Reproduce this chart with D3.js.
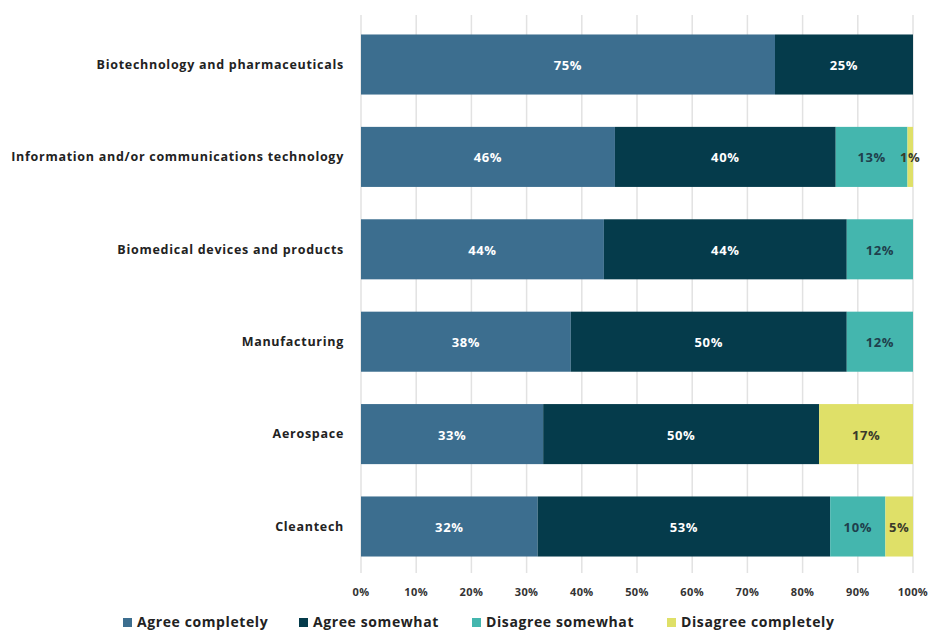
<!DOCTYPE html>
<html>
<head>
<meta charset="utf-8">
<script src="https://cdn.jsdelivr.net/npm/d3@7"></script>
<style>
  body { margin: 0; background: #fff; font-family: "Open Sans", sans-serif; }
</style>
</head>
<body>
<div id="chart-area"></div>
<script>
// Datos del gráfico
var categories = ["Biotechnology and pharmaceuticals", "Information and/or communications technology",
    "Biomedical devices and products", "Manufacturing", "Aerospace", "Cleantech"];
var seriesNames = ["Agree completely", "Agree somewhat", "Disagree somewhat", "Disagree completely"];
var agreeCompletely = [75, 46, 44, 38, 33, 32];
var agreeSomewhat = [25, 40, 44, 50, 50, 53];
var disagreeSomewhat = [0, 13, 12, 12, 0, 10];
var disagreeCompletely = [0, 1, 0, 0, 17, 5];
var tickValues = [0, 10, 20, 30, 40, 50, 60, 70, 80, 90, 100];

var colors = ["#3c6e8f", "#053b4b", "#44b6ae", "#dfe068"];
var labelColors = ["#ffffff", "#ffffff", "#1f3f4c", "#3a3a2a"];

// Construir la tabla para d3.stack
var data = categories.map(function(c, i) {
    return {
        category: c,
        "Agree completely": agreeCompletely[i],
        "Agree somewhat": agreeSomewhat[i],
        "Disagree somewhat": disagreeSomewhat[i],
        "Disagree completely": disagreeCompletely[i]
    };
});

var width = 931, height = 632;
var margin = { top: 16, left: 361, right: 18 };
var plotBottom = 575;

var svg = d3.select("#chart-area").append("svg")
    .attr("width", width)
    .attr("height", height);

var x = d3.scaleLinear().domain([0, 100]).range([margin.left, width - margin.right]);
var y = d3.scaleBand().domain(categories).range([margin.top, plotBottom])
    .paddingInner(0.35).paddingOuter(0.2);

// Líneas de cuadrícula
svg.append("g").selectAll("line")
    .data(tickValues)
    .enter().append("line")
    .attr("x1", function(d) { return x(d); })
    .attr("x2", function(d) { return x(d); })
    .attr("y1", margin.top - 1)
    .attr("y2", plotBottom - 2)
    .attr("stroke", "#e2e2e2")
    .attr("stroke-width", 1.5);

// Etiquetas del eje X
svg.append("g").selectAll("text")
    .data(tickValues)
    .enter().append("text")
    .attr("x", function(d) { return x(d); })
    .attr("y", 596)
    .attr("text-anchor", "middle")
    .style("font-size", "11px")
    .style("font-weight", "700")
    .style("letter-spacing", "0.4px")
    .attr("fill", "#333")
    .text(function(d) { return d + "%"; });

// Etiquetas de categorías
svg.append("g").selectAll("text")
    .data(categories)
    .enter().append("text")
    .attr("x", 344)
    .attr("y", function(d) { return y(d) + y.bandwidth() / 2; })
    .attr("dy", "0.35em")
    .attr("text-anchor", "end")
    .style("font-size", "12.5px")
    .style("font-weight", "700")
    .style("letter-spacing", "0.72px")
    .attr("fill", "#222")
    .text(function(d) { return d; });

var stacked = d3.stack().keys(seriesNames)(data);

var layers = svg.selectAll(".layer")
    .data(stacked)
    .enter().append("g")
    .attr("class", "layer")
    .attr("fill", function(d, i) { return colors[i]; });

layers.selectAll("rect")
    .data(function(d) { return d.filter(function(s) { return s[1] - s[0] > 0; }); })
    .enter().append("rect")
    .attr("x", function(d) { return x(d[0]); })
    .attr("y", function(d) { return y(d.data.category); })
    .attr("width", function(d) { return x(d[1]) - x(d[0]); })
    .attr("height", y.bandwidth());

// Etiquetas de valores
layers.each(function(layer, i) {
    d3.select(this).selectAll("text")
        .data(layer.filter(function(s) { return s[1] - s[0] > 0; }))
        .enter().append("text")
        .attr("x", function(d) { return (x(d[0]) + x(d[1])) / 2; })
        .attr("y", function(d) { return y(d.data.category) + y.bandwidth() / 2 + 1; })
        .attr("dy", "0.35em")
        .attr("text-anchor", "middle")
        .style("font-size", "13px")
        .style("font-weight", "700")
        .style("letter-spacing", "0.6px")
        .attr("fill", labelColors[i])
        .text(function(d) { return (d[1] - d[0]) + "%"; });
});

// Leyenda
var legendX = [123, 299, 472, 667];
var legend = svg.append("g").selectAll("g")
    .data(seriesNames)
    .enter().append("g")
    .attr("transform", function(d, i) { return "translate(" + legendX[i] + ",622)"; });

legend.append("rect")
    .attr("x", 0)
    .attr("y", -4)
    .attr("width", 9)
    .attr("height", 9)
    .attr("fill", function(d, i) { return colors[i]; });

legend.append("text")
    .attr("x", 14)
    .attr("y", 0)
    .attr("dy", "0.35em")
    .style("font-size", "14px")
    .style("font-weight", "700")
    .style("letter-spacing", "0.6px")
    .attr("fill", "#222")
    .text(function(d) { return d; });
</script>
</body>
</html>
